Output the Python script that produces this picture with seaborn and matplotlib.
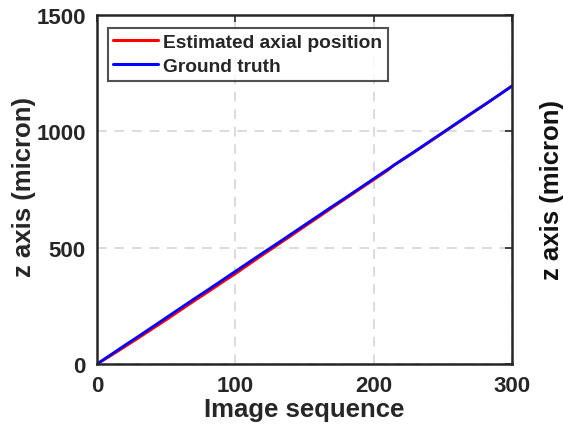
import numpy as np
import pandas as pd
import seaborn as sns
import matplotlib
matplotlib.use("Agg")
import matplotlib.pyplot as plt

# data
frames = [0, 10, 20, 30, 40, 50, 60, 70, 80, 90, 100, 110, 120, 130, 140, 150,
          160, 170, 180, 190, 200, 210, 215, 220, 230, 240, 250, 260, 270, 280, 290, 300]
ground_truth = [0, 40, 80, 119, 159, 199, 239, 279, 318, 358, 398, 438, 478, 517, 557, 597,
                637, 677, 716, 756, 796, 836, 856, 876, 915, 955, 995, 1035, 1075, 1114, 1154, 1194]
estimated = [0, 36, 74, 112, 151, 190, 230, 270, 309, 349, 388, 429, 470, 510, 550, 591,
             631, 672, 712, 752, 792, 832, 856, 874, 913, 953, 993, 1033, 1073, 1113, 1154, 1196]
series_names = ["Estimated axial position", "Ground truth"]
x_ticks = [0, 100, 200, 300]
y_ticks = [0, 500, 1000, 1500]

df = pd.concat([
    pd.DataFrame({"frame": frames, "z": estimated, "series": series_names[0]}),
    pd.DataFrame({"frame": frames, "z": ground_truth, "series": series_names[1]}),
])

sns.set_style("white")
plt.rcParams["font.family"] = ["Liberation Sans", "DejaVu Sans"]
plt.rcParams["font.weight"] = "bold"

fig = plt.figure(figsize=(5.63, 4.27), dpi=100)
ax = fig.add_axes([97/563, 1-365/427, (512-97)/563, (365-16)/427])

ax.grid(True, linestyle=(0, (5, 4)), color="#dcdcdc", linewidth=1.4)
sns.lineplot(data=df, x="frame", y="z", hue="series",
             palette={series_names[0]: "#ff0000", series_names[1]: "#0000ff"},
             linewidth=2, ax=ax)

ax.set_xlim(0, 300)
ax.set_ylim(0, 1500)
ax.set_xticks(x_ticks)
ax.set_yticks(y_ticks)
ax.tick_params(direction="in", length=5, width=1.2, labelsize=16, colors="#262626",
               top=True, right=True, pad=8)
for lab in ax.get_xticklabels() + ax.get_yticklabels():
    lab.set_fontweight("bold")
for s in ax.spines.values():
    s.set_linewidth(1.8)
    s.set_color("#262626")

ax.set_xlabel("Image sequence", fontsize=18.5, fontweight="bold", labelpad=1)
ax.set_ylabel("")
fig.text(24/563, 1-187/427, "z axis (micron)", rotation=90, ha="center", va="center",
         fontsize=18.5, fontweight="bold", color="#262626")
fig.text(552/563, 1-190/427, "z axis (micron)", rotation=90, ha="center", va="center",
         fontsize=18.5, fontweight="bold", color="#111111")

leg = ax.legend(loc="upper left", bbox_to_anchor=(0.012, 0.98), frameon=True,
                fancybox=False, fontsize=13.8, handlelength=2.3, handletextpad=0.3,
                borderpad=0.3, labelspacing=0.35, borderaxespad=0.3)
leg.get_frame().set_edgecolor("#262626")
leg.get_frame().set_linewidth(1.5)
for t in leg.get_texts():
    t.set_fontweight("bold")
for l in leg.get_lines():
    l.set_linewidth(2.2)

fig.savefig("out.png", dpi=100)
